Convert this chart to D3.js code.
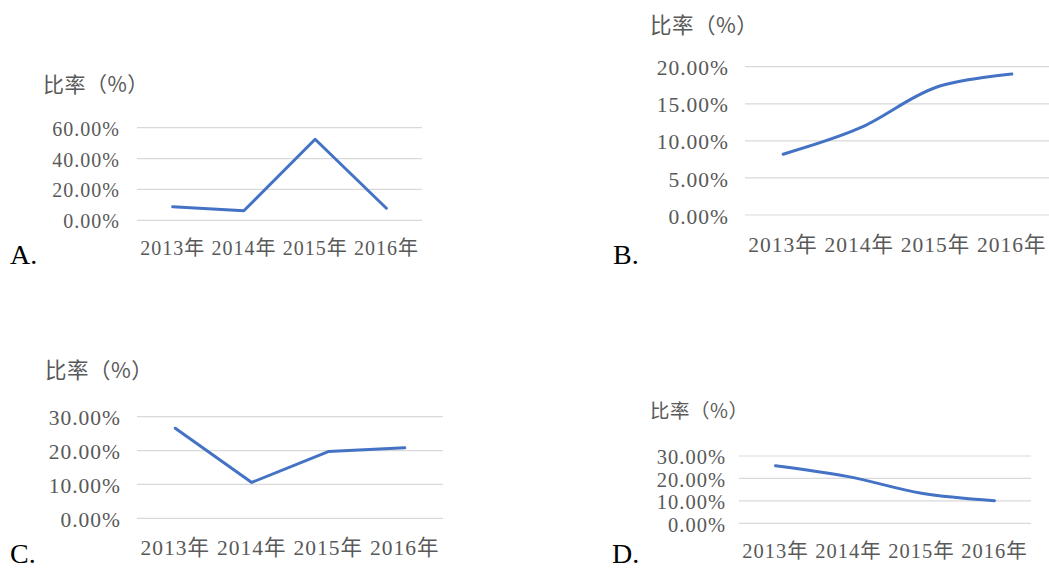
<!DOCTYPE html>
<html lang="zh">
<head>
<meta charset="UTF-8" />
<script src="https://d3js.org/d3.v7.min.js"></script>
<style>
  body { margin: 0; background: #fff; }
  svg { display: block; }
  .tick-label, .cat-label { font-family: "Liberation Serif", "Noto Sans CJK SC", serif; fill: #595959; letter-spacing: 1px; }
  .title { font-family: "Noto Sans CJK SC", sans-serif; fill: #595959; letter-spacing: 0.5px; }
  .letter { font-family: "Liberation Serif", serif; font-size: 28px; fill: #000; }
</style>
</head>
<body>
<svg id="chart"></svg>
<script>
// data
const years = ["2013年", "2014年", "2015年", "2016年"];
const ratesA = [8.8, 6.2, 52.5, 7.8];
const ratesB = [8.2, 11.7, 17.2, 19.0];
const ratesC = [26.6, 10.6, 19.7, 20.8];
const ratesD = [25.7, 20.8, 13.4, 10.1];
const ticksA = [0, 20, 40, 60];
const ticksB = [0, 5, 10, 15, 20];
const ticksC = [0, 10, 20, 30];
const ticksD = [0, 10, 20, 30];
const letters = ["A.", "B.", "C.", "D."];
const titleText = "比率（%）";

const W = 1049, H = 569;
const svg = d3.select("#chart").attr("width", W).attr("height", H);

// layout of the four small charts
const panels = [
  { values: ratesA, ticks: ticksA, smooth: false, x0: 137, x1: 422, yBot: 220.3, yTop: 127.7,
    tickRight: 120, catY: 255, titleX: 43, titleY: 83, letterX: 10, letterY: 264,
    fs: 20, titleFs: 21 },
  { values: ratesB, ticks: ticksB, smooth: true, x0: 745, x1: 1050, yBot: 215, yTop: 66.7,
    tickRight: 729, catY: 252, titleX: 650, titleY: 23, letterX: 613, letterY: 264,
    fs: 21.5, titleFs: 21.5 },
  { values: ratesC, ticks: ticksC, smooth: false, x0: 137, x1: 443, yBot: 518.3, yTop: 416.7,
    tickRight: 121, catY: 555, titleX: 45, titleY: 368, letterX: 10, letterY: 563,
    fs: 21.5, titleFs: 21.5 },
  { values: ratesD, ticks: ticksD, smooth: true, x0: 739, x1: 1031, yBot: 523.3, yTop: 456,
    tickRight: 726, catY: 558, titleX: 650, titleY: 409, letterX: 612, letterY: 563,
    fs: 20.5, titleFs: 19.5 }
];

panels.forEach((p, i) => {
  const g = svg.append("g");
  const x = d3.scaleBand().domain(years).range([p.x0, p.x1]);
  const y = d3.scaleLinear().domain([0, d3.max(p.ticks)]).range([p.yBot, p.yTop]);

  // gridlines
  g.selectAll(".grid").data(p.ticks).enter().append("line")
    .attr("x1", p.x0).attr("x2", p.x1)
    .attr("y1", d => y(d)).attr("y2", d => y(d))
    .attr("stroke", "#d9d9d9").attr("stroke-width", 1.2);

  // tick labels
  g.selectAll(".tick-label").data(p.ticks).enter().append("text")
    .attr("class", "tick-label")
    .style("font-size", p.fs + "px")
    .attr("x", p.tickRight).attr("y", d => y(d))
    .attr("dy", "0.4em")
    .attr("text-anchor", "end")
    .text(d => d3.format(".2f")(d) + "%");

  // category labels
  g.selectAll(".cat-label").data(years).enter().append("text")
    .attr("class", "cat-label")
    .style("font-size", p.fs + "px")
    .attr("x", d => x(d) + x.bandwidth() / 2).attr("y", p.catY)
    .attr("text-anchor", "middle")
    .text(d => d);

  // line
  const line = d3.line()
    .x((d, j) => x(years[j]) + x.bandwidth() / 2)
    .y(d => y(d))
    .curve(p.smooth ? d3.curveCatmullRom.alpha(0.5) : d3.curveLinear);
  g.append("path").datum(p.values)
    .attr("d", line)
    .attr("fill", "none")
    .attr("stroke", "#4472C4")
    .attr("stroke-width", 3)
    .attr("stroke-linejoin", "round")
    .attr("stroke-linecap", "round");

  // axis title
  g.append("text").attr("class", "title")
    .style("font-size", p.titleFs + "px")
    .attr("x", p.titleX).attr("y", p.titleY)
    .attr("dominant-baseline", "central")
    .text(titleText);

  // option letter
  g.append("text").attr("class", "letter")
    .attr("x", p.letterX).attr("y", p.letterY)
    .text(letters[i]);
});
</script>
</body>
</html>
